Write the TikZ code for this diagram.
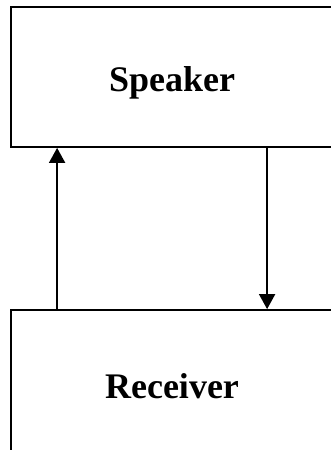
\documentclass[tikz,border=0pt]{standalone}
\usepackage{fontspec}
\setmainfont{Liberation Serif}
\usetikzlibrary{arrows.meta}
\begin{document}
\begin{tikzpicture}[
    x=1pt, y=-1pt,
    block/.style={rectangle, draw, line width=1.8pt, minimum width=322pt,
                  font=\fontsize{36}{42}\selectfont\bfseries, align=center},
    arrow/.style={line width=1.8pt, -{Triangle[length=15pt,width=16pt]}}
  ]
    % Marco
    \useasboundingbox (0,0) rectangle (331,450);
    \clip (0,0) rectangle (331,450);

    % Bloques
    \node[block, minimum height=140pt, text height=37pt, text depth=8pt] (speaker) at (172,77) {Speaker};
    \node[block, minimum height=152pt] (receiver) at (172,386) {Receiver};

    % Conexiones
    \draw[arrow] ([xshift=47pt]receiver.north west) -- ([xshift=47pt]speaker.south west);
    \draw[arrow] ([xshift=257pt]speaker.south west) -- ([xshift=257pt]receiver.north west);
  \end{tikzpicture}
\end{document}
